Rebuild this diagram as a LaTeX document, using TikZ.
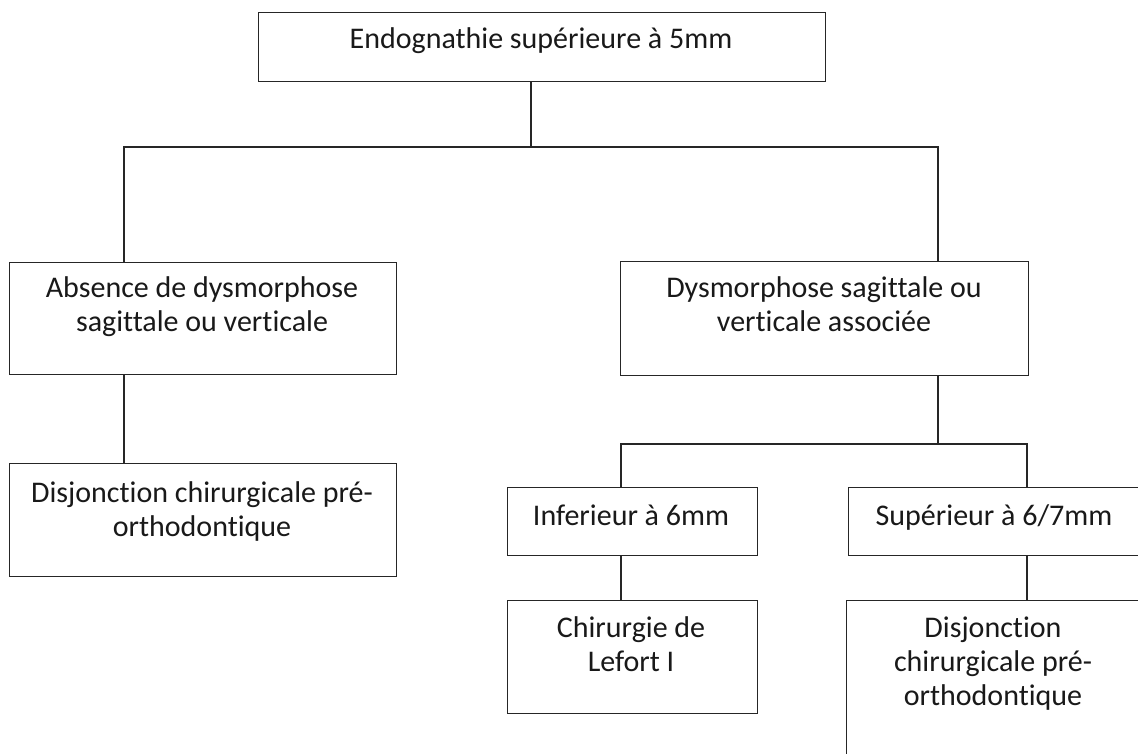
\documentclass[tikz,border=0pt]{standalone}
\usepackage{fontspec}
\setmainfont{Carlito}[Ligatures={NoCommon}]
\newcommand\boxlines[1]{\begin{tabular}[t]{@{}c@{}}#1\end{tabular}}
\tikzset{
  frame/.style={draw=black!85, line width=1.4pt, rectangle, inner sep=0pt, anchor=north west, fill=white},
  lbl/.style={inner sep=0pt, anchor=base, text=black!90, font=\fontsize{30}{34}\selectfont},
  link/.style={draw=black!85, line width=1.3pt}
}
\begin{document}
\begin{tikzpicture}[x=1pt,y=-1pt]
\clip (0,0) rectangle (1138,753);
\fill[white] (0,0) rectangle (1138,753);
% boxes
\node[frame, minimum width=567pt, minimum height=69pt] (top) at (258,12) {};
\node[frame, minimum width=387pt, minimum height=112pt] (la) at (9,262) {};
\node[frame, minimum width=387pt, minimum height=113pt] (lb) at (9,463) {};
\node[frame, minimum width=408pt, minimum height=114pt] (ra) at (620,261) {};
\node[frame, minimum width=250pt, minimum height=68pt] (inf) at (507,487) {};
\node[frame, minimum width=293pt, minimum height=68pt] (sup) at (848,487) {};
\node[frame, minimum width=250pt, minimum height=113pt] (chi) at (507,600) {};
\node[frame, minimum width=295pt, minimum height=190pt] (dis) at (846,600) {};
% texts
\node[lbl] (ttop) at (541,48) {Endognathie supérieure à 5mm};
\node[lbl] (tla) at (202,297) {\boxlines{Absence de dysmorphose\\sagittale ou verticale}};
\node[lbl] (tlb) at (202,502) {\boxlines{Disjonction chirurgicale pré-\\orthodontique}};
\node[lbl] (tra) at (824,297) {\boxlines{Dysmorphose sagittale ou\\verticale associée}};
\node[lbl] (tinf) at (631,525) {Inferieur à 6mm};
\node[lbl] (tsup) at (994,525) {Supérieur à 6/7mm};
\node[lbl] (tchi) at (631,637) {\boxlines{Chirurgie de\\Lefort I}};
\node[lbl] (tdis) at (993,637) {\boxlines{Disjonction\\chirurgicale pré-\\orthodontique}};
% junctions
\coordinate (jt) at (531,147);
\coordinate (jl) at (124,147);
\coordinate (jr) at (938,147);
\coordinate (kt) at (938,444);
\coordinate (kl) at (621,444);
\coordinate (kr) at (1027,444);
% connectors
\draw[link] (top.south -| jt) -- (jt);
\draw[link] (la.north -| jl) -- (jl) -- (jr) -- (ra.north -| jr);
\draw[link] (la.south -| jl) -- (lb.north -| jl);
\draw[link] (ra.south -| kt) -- (kt);
\draw[link] (inf.north -| kl) -- (kl) -- (kr) -- (sup.north -| kr);
\draw[link] (inf.south -| kl) -- (chi.north -| kl);
\draw[link] (sup.south -| kr) -- (dis.north -| kr);
\end{tikzpicture}
\end{document}
